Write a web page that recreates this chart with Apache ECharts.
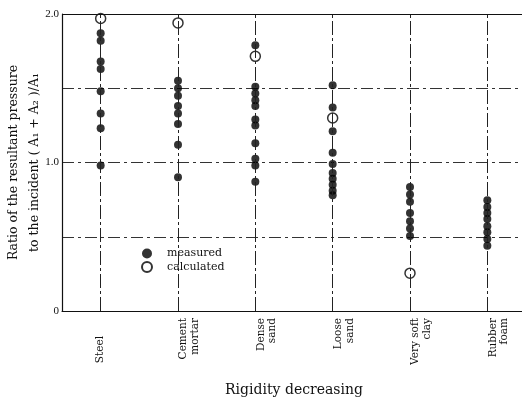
<!DOCTYPE html>
<html>
<head>
<meta charset="utf-8">
<script src="https://cdn.jsdelivr.net/npm/echarts@6/dist/echarts.min.js"></script>
<style>html,body{margin:0;padding:0;background:#fff;}#c{width:522px;height:405px;}</style>
</head>
<body>
<div id="c"></div>
<script>
// Categories (rigidity decreasing)
var categories = ['Steel', 'Cement\nmortar', 'Dense\nsand', 'Loose\nsand', 'Very soft\nclay', 'Rubber\nfoam'];

// Measured ratios per category
var steelMeasured  = [1.87, 1.82, 1.68, 1.63, 1.48, 1.33, 1.23, 0.98];
var cementMeasured = [1.55, 1.50, 1.45, 1.38, 1.33, 1.26, 1.12, 0.90];
var denseMeasured  = [1.79, 1.51, 1.465, 1.42, 1.38, 1.29, 1.25, 1.13, 1.025, 0.98, 0.87];
var looseMeasured  = [1.52, 1.37, 1.21, 1.065, 0.99, 0.93, 0.89, 0.85, 0.81, 0.78];
var clayMeasured   = [0.835, 0.785, 0.735, 0.66, 0.605, 0.555, 0.505];
var rubberMeasured = [0.745, 0.70, 0.66, 0.62, 0.57, 0.53, 0.485, 0.44];

// Calculated ratios per category
var calculatedValues = [1.97, 1.94, 1.715, 1.30, 0.255, null];

// Y tick labels at 0, 0.5, 1.0, 1.5, 2.0
var yTickLabels = ['0', '', '1.0', '', '2.0'];

var measuredGroups = [steelMeasured, cementMeasured, denseMeasured, looseMeasured, clayMeasured, rubberMeasured];
var measuredData = [];
measuredGroups.forEach(function (g, i) {
  g.forEach(function (v) { measuredData.push([categories[i], v]); });
});
var calculatedData = [];
calculatedValues.forEach(function (v, i) {
  if (v !== null) calculatedData.push([categories[i], v]);
});

var serif = 'DejaVu Serif';
var chart = echarts.init(document.getElementById('c'), null, {renderer: 'canvas'});
chart.setOption({
  animation: false,
  backgroundColor: '#fff',
  grid: {
    left: 62, top: 14, width: 464, height: 297,
    containLabel: false, outerBoundsMode: 'none', show: false
  },
  legend: {
    orient: 'vertical', left: 136, top: 243,
    itemWidth: 10, itemHeight: 10, itemGap: 2,
    textStyle: {fontFamily: serif, fontSize: 11, color: '#111', padding: [0, 0, 0, 10]},
    data: ['measured', 'calculated']
  },
  xAxis: {
    type: 'category',
    data: categories.map(function (c, i) {
      return i === 0 ? {value: c, textStyle: {padding: [0, 18, 0, 0]}} : {value: c, textStyle: {verticalAlign: 'top'}};
    }),
    boundaryGap: true,
    axisLine: {show: true, lineStyle: {color: '#111', width: 1}},
    axisTick: {show: false},
    splitLine: {show: false},
    axisLabel: {
      rotate: 90, margin: 7, interval: 0,
      fontFamily: serif, fontSize: 10.5, color: '#111', lineHeight: 11.5
    },
    name: 'Rigidity decreasing', nameLocation: 'middle', nameGap: 72, nameMoveOverlap: false,
    nameTextStyle: {fontFamily: serif, fontSize: 14, color: '#111'}
  },
  yAxis: {
    type: 'value', min: 0, max: 2, interval: 0.5,
    axisLine: {show: true, lineStyle: {color: '#111', width: 1.2}},
    axisTick: {show: false},
    axisLabel: {
      margin: 3, fontFamily: 'Liberation Serif', fontSize: 11, color: '#111',
      formatter: function (v) { return yTickLabels[Math.round(v / 0.5)]; }
    },
    splitLine: {show: true, lineStyle: {color: '#333', width: 1, type: [12, 4, 3, 4]}},
    name: 'Ratio of the resultant pressure\nto the incident ( A\u2081 + A\u2082 )/A\u2081',
    nameLocation: 'middle', nameRotate: 90, nameGap: 16.5, nameMoveOverlap: false,
    nameTextStyle: {fontFamily: serif, fontSize: 12.5, color: '#111', lineHeight: 21}
  },
  series: [
    {
      name: 'measured', type: 'scatter', symbol: 'circle', symbolSize: 8,
      itemStyle: {color: '#000'}, z: 3,
      data: measuredData,
      markLine: {
        silent: true, symbol: 'none', label: {show: false},
        lineStyle: {color: '#222', width: 1, type: [14, 3, 3, 3]},
        data: categories.map(function (c) { return {xAxis: c}; })
      }
    },
    {
      name: 'calculated', type: 'scatter', symbol: 'circle', symbolSize: 10,
      itemStyle: {color: '#fff', borderColor: '#000', borderWidth: 1.5}, z: 4,
      data: calculatedData,
      markLine: {
        silent: true, symbol: 'none', label: {show: false},
        lineStyle: {color: '#111', width: 1.2, type: 'solid'},
        data: [{yAxis: 2}]
      }
    }
  ]
});
</script>
</body>
</html>
